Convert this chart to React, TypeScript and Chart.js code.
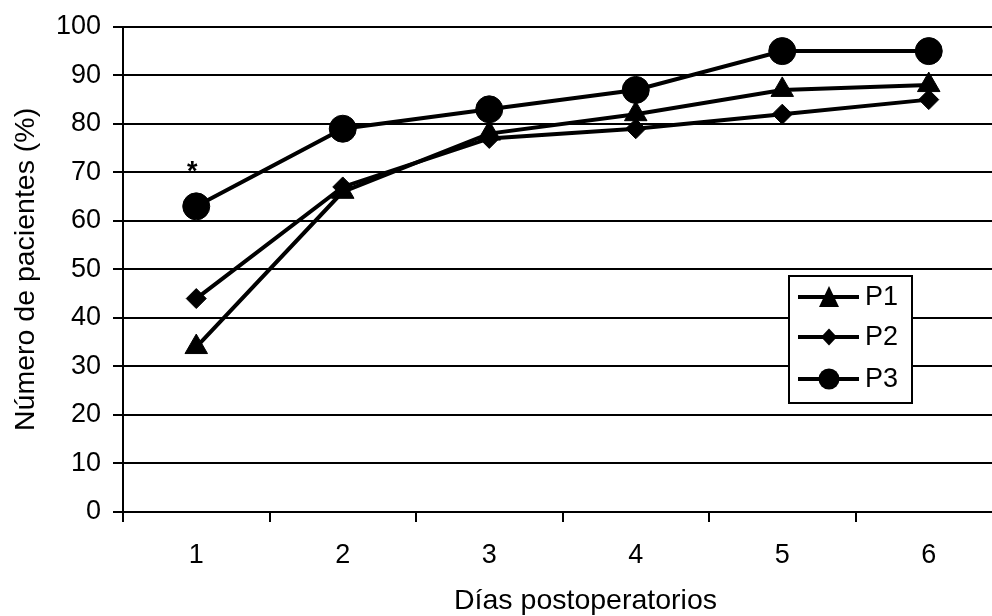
import React, { useEffect, useRef } from 'react';
import { Chart, registerables } from 'chart.js';

Chart.register(...registerables);

// ---- data ----
const days = ['1', '2', '3', '4', '5', '6'];
const p1Values = [34, 66, 78, 82, 87, 88];
const p2Values = [44, 67, 77, 79, 82, 85];
const p3Values = [63, 79, 83, 87, 95, 95];
const seriesNames = ['P1', 'P2', 'P3'];
const yMin = 0;
const yMax = 100;
const yStep = 10;
const noteText = '*';
const noteDayIndex = 0;
const noteValue = 71;
const xTitle = 'Días postoperatorios';
const yTitle = 'Número de pacientes (%)';

const FONT_FAMILY = '"Liberation Sans", Arial, Helvetica, sans-serif';
const font = { family: FONT_FAMILY, size: 27, lineHeight: 1.1 };
const titleFont = { family: FONT_FAMILY, size: 28.5, lineHeight: 1.1 };

function drawMarker(ctx: CanvasRenderingContext2D, kind: string, cx: number, cy: number) {
  ctx.beginPath();
  if (kind === 'triangle') {
    ctx.moveTo(cx, cy - 11);
    ctx.lineTo(cx + 10, cy + 10);
    ctx.lineTo(cx - 10, cy + 10);
    ctx.closePath();
  } else if (kind === 'rectRot') {
    ctx.moveTo(cx, cy - 8.5);
    ctx.lineTo(cx + 8, cy);
    ctx.lineTo(cx, cy + 8.5);
    ctx.lineTo(cx - 8, cy);
    ctx.closePath();
  } else {
    ctx.arc(cx, cy, 10.5, 0, Math.PI * 2);
  }
  ctx.fill();
}

const boxLegend = {
  id: 'boxLegend',
  afterDraw(chart: any) {
    const ctx: CanvasRenderingContext2D = chart.ctx;
    const x0 = 789;
    const y0 = 276;
    const w = 123;
    const h = 127;
    const rowYs = [21, 61, 103];
    ctx.save();
    ctx.fillStyle = '#ffffff';
    ctx.fillRect(x0, y0, w, h);
    ctx.lineWidth = 2;
    ctx.strokeStyle = '#000000';
    ctx.strokeRect(x0, y0, w, h);
    chart.data.datasets.forEach((ds: any, i: number) => {
      const y = y0 + rowYs[i];
      ctx.lineWidth = 4;
      ctx.strokeStyle = '#000';
      ctx.beginPath();
      ctx.moveTo(x0 + 9, y);
      ctx.lineTo(x0 + 70, y);
      ctx.stroke();
      ctx.fillStyle = '#000';
      drawMarker(ctx, ds.pointStyle, x0 + 40, y);
      ctx.font = `27px ${FONT_FAMILY}`;
      ctx.textAlign = 'left';
      ctx.textBaseline = 'middle';
      ctx.fillText(ds.label, x0 + 76, y + 1);
    });
    ctx.restore();
  },
};

const annotations = {
  id: 'annotations',
  afterDatasetsDraw(chart: any) {
    const ctx: CanvasRenderingContext2D = chart.ctx;
    const x = chart.scales.x.getPixelForValue(noteDayIndex);
    const y = chart.scales.y.getPixelForValue(noteValue);
    ctx.save();
    ctx.fillStyle = '#000';
    ctx.font = `bold 27px ${FONT_FAMILY}`;
    ctx.textAlign = 'center';
    ctx.textBaseline = 'alphabetic';
    ctx.fillText(noteText, x - 4, y + 12);
    // x-axis title (the original is centred a little right of the visible plot)
    const area = chart.chartArea;
    ctx.font = `${titleFont.size}px ${FONT_FAMILY}`;
    ctx.fillText(xTitle, (area.left + area.right) / 2 + 23, 609);
    ctx.restore();
  },
};

export default function App() {
  const ref = useRef<HTMLCanvasElement>(null);

  useEffect(() => {
    if (!ref.current) return;
    const common = {
      borderColor: '#000',
      backgroundColor: '#000',
      pointBackgroundColor: '#000',
      pointBorderColor: '#000',
      borderWidth: 4,
      pointBorderWidth: 1,
      tension: 0,
      fill: false,
    };
    const chart = new Chart(ref.current, {
      type: 'line',
      data: {
        labels: days,
        datasets: [
          { ...common, label: seriesNames[0], data: p1Values, pointStyle: 'triangle', pointRadius: 13 },
          { ...common, label: seriesNames[1], data: p2Values, pointStyle: 'rectRot', pointRadius: 10 },
          { ...common, label: seriesNames[2], data: p3Values, pointStyle: 'circle', pointRadius: 13.5 },
        ],
      },
      options: {
        responsive: false,
        animation: false,
        layout: { autoPadding: false, padding: { top: 25, left: 0, right: 0, bottom: 0 } },
        plugins: {
          legend: { display: false },
          tooltip: { enabled: false },
        },
        scales: {
          x: {
            offset: true,
            grid: {
              display: true,
              drawOnChartArea: false,
              drawTicks: true,
              tickLength: 10,
              offset: true,
              color: '#000',
              lineWidth: 2,
            },
            border: { display: true, color: '#000', width: 2 },
            ticks: { color: '#000', font, padding: 19, maxRotation: 0, autoSkip: false },
            title: { display: false },
            afterFit: (s: any) => {
              s.height = 104;
              s.paddingLeft = 0;
              s.paddingRight = 0;
            },
          },
          y: {
            min: yMin,
            max: yMax,
            ticks: { stepSize: yStep, color: '#000', font, padding: 12 },
            grid: { color: '#000', lineWidth: 2, tickLength: 10 },
            border: { color: '#000', width: 2 },
            title: {
              display: true,
              text: yTitle,
              color: '#000',
              font: titleFont,
              padding: { top: 10.5, bottom: 0 },
            },
            afterFit: (s: any) => {
              s.width = 123;
            },
          },
        },
      } as any,
      plugins: [boxLegend, annotations],
    });
    return () => chart.destroy();
  }, []);

  return (
    <div
      style={{
        position: 'absolute',
        left: 0,
        top: 0,
        width: 992,
        height: 616,
        overflow: 'hidden',
        background: '#fff',
      }}
    >
      <canvas ref={ref} width={1002} height={616} style={{ display: 'block' }} />
    </div>
  );
}
